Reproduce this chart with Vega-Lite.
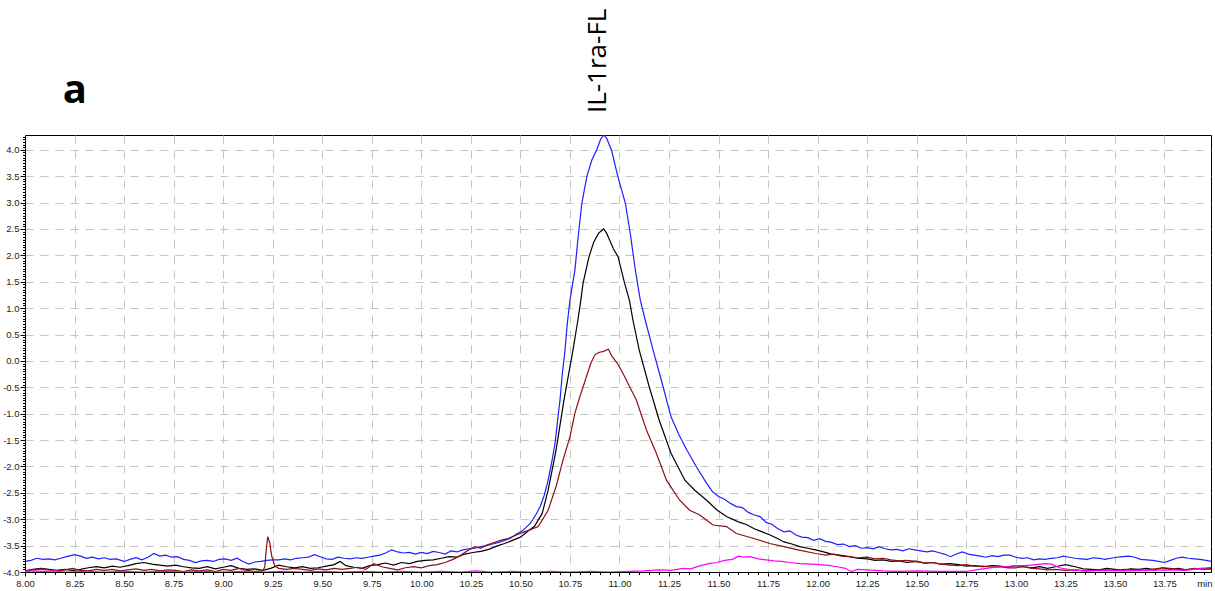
{
  "$schema": "https://vega.github.io/schema/vega-lite/v6.json",
  "width": 1186,
  "height": 437,
  "autosize": {"type": "none"},
  "padding": {"left": 25, "top": 135, "right": 4, "bottom": 19},
  "background": "white",
  "config": {"view": {"stroke": "#000", "strokeWidth": 1}, "font": "Liberation Sans"},
  "datasets": {
    "traces": [
      {"s":"b","t":8.00,"v":-3.80},{"s":"b","t":8.03,"v":-3.78},{"s":"b","t":8.06,"v":-3.74},{"s":"b","t":8.09,"v":-3.76},{"s":"b","t":8.12,"v":-3.75},{"s":"b","t":8.15,"v":-3.77},{"s":"b","t":8.18,"v":-3.74},{"s":"b","t":8.21,"v":-3.71},{"s":"b","t":8.25,"v":-3.67},{"s":"b","t":8.28,"v":-3.70},{"s":"b","t":8.31,"v":-3.74},{"s":"b","t":8.34,"v":-3.72},{"s":"b","t":8.37,"v":-3.75},{"s":"b","t":8.40,"v":-3.73},{"s":"b","t":8.43,"v":-3.76},{"s":"b","t":8.46,"v":-3.75},{"s":"b","t":8.50,"v":-3.80},{"s":"b","t":8.53,"v":-3.76},{"s":"b","t":8.56,"v":-3.73},{"s":"b","t":8.59,"v":-3.77},{"s":"b","t":8.62,"v":-3.72},{"s":"b","t":8.65,"v":-3.65},{"s":"b","t":8.68,"v":-3.70},{"s":"b","t":8.71,"v":-3.68},{"s":"b","t":8.74,"v":-3.72},{"s":"b","t":8.77,"v":-3.71},{"s":"b","t":8.80,"v":-3.76},{"s":"b","t":8.83,"v":-3.78},{"s":"b","t":8.86,"v":-3.82},{"s":"b","t":8.89,"v":-3.79},{"s":"b","t":8.92,"v":-3.78},{"s":"b","t":8.95,"v":-3.80},{"s":"b","t":8.98,"v":-3.76},{"s":"b","t":9.01,"v":-3.75},{"s":"b","t":9.04,"v":-3.78},{"s":"b","t":9.07,"v":-3.74},{"s":"b","t":9.10,"v":-3.80},{"s":"b","t":9.13,"v":-3.85},{"s":"b","t":9.16,"v":-3.81},{"s":"b","t":9.19,"v":-3.80},{"s":"b","t":9.22,"v":-3.78},{"s":"b","t":9.25,"v":-3.77},{"s":"b","t":9.28,"v":-3.77},{"s":"b","t":9.31,"v":-3.75},{"s":"b","t":9.34,"v":-3.77},{"s":"b","t":9.37,"v":-3.74},{"s":"b","t":9.40,"v":-3.73},{"s":"b","t":9.43,"v":-3.72},{"s":"b","t":9.46,"v":-3.67},{"s":"b","t":9.49,"v":-3.71},{"s":"b","t":9.52,"v":-3.75},{"s":"b","t":9.55,"v":-3.76},{"s":"b","t":9.58,"v":-3.72},{"s":"b","t":9.61,"v":-3.74},{"s":"b","t":9.64,"v":-3.75},{"s":"b","t":9.67,"v":-3.73},{"s":"b","t":9.70,"v":-3.74},{"s":"b","t":9.73,"v":-3.72},{"s":"b","t":9.76,"v":-3.70},{"s":"b","t":9.79,"v":-3.68},{"s":"b","t":9.82,"v":-3.64},{"s":"b","t":9.85,"v":-3.58},{"s":"b","t":9.88,"v":-3.62},{"s":"b","t":9.91,"v":-3.64},{"s":"b","t":9.94,"v":-3.63},{"s":"b","t":9.97,"v":-3.66},{"s":"b","t":10.00,"v":-3.63},{"s":"b","t":10.03,"v":-3.65},{"s":"b","t":10.06,"v":-3.61},{"s":"b","t":10.09,"v":-3.63},{"s":"b","t":10.12,"v":-3.66},{"s":"b","t":10.15,"v":-3.60},{"s":"b","t":10.18,"v":-3.62},{"s":"b","t":10.21,"v":-3.58},{"s":"b","t":10.24,"v":-3.56},{"s":"b","t":10.27,"v":-3.55},{"s":"b","t":10.30,"v":-3.52},{"s":"b","t":10.33,"v":-3.50},{"s":"b","t":10.36,"v":-3.47},{"s":"b","t":10.39,"v":-3.44},{"s":"b","t":10.42,"v":-3.40},{"s":"b","t":10.45,"v":-3.36},{"s":"b","t":10.48,"v":-3.28},{"s":"b","t":10.51,"v":-3.22},{"s":"b","t":10.55,"v":-3.08},{"s":"b","t":10.58,"v":-2.90},{"s":"b","t":10.60,"v":-2.76},{"s":"b","t":10.62,"v":-2.55},{"s":"b","t":10.64,"v":-2.26},{"s":"b","t":10.66,"v":-1.88},{"s":"b","t":10.675,"v":-1.56},{"s":"b","t":10.69,"v":-1.05},{"s":"b","t":10.70,"v":-0.74},{"s":"b","t":10.71,"v":-0.30},{"s":"b","t":10.725,"v":0.20},{"s":"b","t":10.735,"v":0.65},{"s":"b","t":10.75,"v":1.15},{"s":"b","t":10.775,"v":1.72},{"s":"b","t":10.79,"v":2.30},{"s":"b","t":10.81,"v":2.98},{"s":"b","t":10.835,"v":3.49},{"s":"b","t":10.86,"v":3.80},{"s":"b","t":10.885,"v":4.00},{"s":"b","t":10.905,"v":4.20},{"s":"b","t":10.92,"v":4.28},{"s":"b","t":10.935,"v":4.22},{"s":"b","t":10.96,"v":3.99},{"s":"b","t":10.99,"v":3.52},{"s":"b","t":11.03,"v":2.98},{"s":"b","t":11.055,"v":2.40},{"s":"b","t":11.08,"v":1.72},{"s":"b","t":11.105,"v":1.15},{"s":"b","t":11.13,"v":0.77},{"s":"b","t":11.17,"v":0.20},{"s":"b","t":11.22,"v":-0.49},{"s":"b","t":11.26,"v":-1.06},{"s":"b","t":11.30,"v":-1.40},{"s":"b","t":11.34,"v":-1.69},{"s":"b","t":11.39,"v":-2.02},{"s":"b","t":11.44,"v":-2.32},{"s":"b","t":11.47,"v":-2.48},{"s":"b","t":11.50,"v":-2.57},{"s":"b","t":11.53,"v":-2.62},{"s":"b","t":11.56,"v":-2.70},{"s":"b","t":11.59,"v":-2.76},{"s":"b","t":11.62,"v":-2.78},{"s":"b","t":11.65,"v":-2.87},{"s":"b","t":11.68,"v":-2.92},{"s":"b","t":11.71,"v":-2.95},{"s":"b","t":11.74,"v":-3.06},{"s":"b","t":11.77,"v":-3.10},{"s":"b","t":11.80,"v":-3.18},{"s":"b","t":11.83,"v":-3.24},{"s":"b","t":11.86,"v":-3.22},{"s":"b","t":11.89,"v":-3.30},{"s":"b","t":11.92,"v":-3.34},{"s":"b","t":11.95,"v":-3.35},{"s":"b","t":11.98,"v":-3.40},{"s":"b","t":12.01,"v":-3.37},{"s":"b","t":12.04,"v":-3.42},{"s":"b","t":12.07,"v":-3.44},{"s":"b","t":12.10,"v":-3.48},{"s":"b","t":12.13,"v":-3.47},{"s":"b","t":12.16,"v":-3.52},{"s":"b","t":12.19,"v":-3.50},{"s":"b","t":12.22,"v":-3.55},{"s":"b","t":12.25,"v":-3.54},{"s":"b","t":12.28,"v":-3.56},{"s":"b","t":12.31,"v":-3.52},{"s":"b","t":12.34,"v":-3.56},{"s":"b","t":12.37,"v":-3.58},{"s":"b","t":12.40,"v":-3.57},{"s":"b","t":12.43,"v":-3.60},{"s":"b","t":12.46,"v":-3.56},{"s":"b","t":12.49,"v":-3.58},{"s":"b","t":12.52,"v":-3.60},{"s":"b","t":12.55,"v":-3.62},{"s":"b","t":12.58,"v":-3.60},{"s":"b","t":12.61,"v":-3.63},{"s":"b","t":12.64,"v":-3.66},{"s":"b","t":12.67,"v":-3.71},{"s":"b","t":12.70,"v":-3.66},{"s":"b","t":12.73,"v":-3.62},{"s":"b","t":12.76,"v":-3.66},{"s":"b","t":12.79,"v":-3.68},{"s":"b","t":12.82,"v":-3.70},{"s":"b","t":12.85,"v":-3.72},{"s":"b","t":12.88,"v":-3.69},{"s":"b","t":12.91,"v":-3.71},{"s":"b","t":12.94,"v":-3.68},{"s":"b","t":12.97,"v":-3.68},{"s":"b","t":13.00,"v":-3.72},{"s":"b","t":13.03,"v":-3.74},{"s":"b","t":13.06,"v":-3.73},{"s":"b","t":13.09,"v":-3.77},{"s":"b","t":13.12,"v":-3.75},{"s":"b","t":13.15,"v":-3.76},{"s":"b","t":13.18,"v":-3.74},{"s":"b","t":13.21,"v":-3.73},{"s":"b","t":13.24,"v":-3.70},{"s":"b","t":13.27,"v":-3.72},{"s":"b","t":13.30,"v":-3.74},{"s":"b","t":13.33,"v":-3.75},{"s":"b","t":13.36,"v":-3.76},{"s":"b","t":13.39,"v":-3.73},{"s":"b","t":13.42,"v":-3.74},{"s":"b","t":13.45,"v":-3.76},{"s":"b","t":13.48,"v":-3.74},{"s":"b","t":13.51,"v":-3.72},{"s":"b","t":13.54,"v":-3.71},{"s":"b","t":13.57,"v":-3.70},{"s":"b","t":13.60,"v":-3.72},{"s":"b","t":13.63,"v":-3.76},{"s":"b","t":13.66,"v":-3.77},{"s":"b","t":13.69,"v":-3.78},{"s":"b","t":13.72,"v":-3.80},{"s":"b","t":13.75,"v":-3.82},{"s":"b","t":13.78,"v":-3.78},{"s":"b","t":13.81,"v":-3.74},{"s":"b","t":13.84,"v":-3.72},{"s":"b","t":13.87,"v":-3.74},{"s":"b","t":13.90,"v":-3.75},{"s":"b","t":13.93,"v":-3.76},{"s":"b","t":13.96,"v":-3.78},{"s":"b","t":13.99,"v":-3.80},

      {"s":"k","t":8.00,"v":-3.98},{"s":"k","t":8.04,"v":-3.95},{"s":"k","t":8.08,"v":-3.93},{"s":"k","t":8.12,"v":-3.95},{"s":"k","t":8.16,"v":-3.97},{"s":"k","t":8.20,"v":-3.95},{"s":"k","t":8.24,"v":-3.97},{"s":"k","t":8.28,"v":-3.95},{"s":"k","t":8.32,"v":-3.92},{"s":"k","t":8.36,"v":-3.90},{"s":"k","t":8.40,"v":-3.92},{"s":"k","t":8.44,"v":-3.89},{"s":"k","t":8.48,"v":-3.91},{"s":"k","t":8.52,"v":-3.88},{"s":"k","t":8.56,"v":-3.84},{"s":"k","t":8.60,"v":-3.82},{"s":"k","t":8.64,"v":-3.85},{"s":"k","t":8.68,"v":-3.87},{"s":"k","t":8.72,"v":-3.89},{"s":"k","t":8.76,"v":-3.87},{"s":"k","t":8.80,"v":-3.90},{"s":"k","t":8.84,"v":-3.92},{"s":"k","t":8.88,"v":-3.93},{"s":"k","t":8.92,"v":-3.90},{"s":"k","t":8.96,"v":-3.94},{"s":"k","t":9.00,"v":-3.91},{"s":"k","t":9.04,"v":-3.88},{"s":"k","t":9.08,"v":-3.93},{"s":"k","t":9.12,"v":-3.95},{"s":"k","t":9.16,"v":-3.94},{"s":"k","t":9.20,"v":-3.97},{"s":"k","t":9.24,"v":-3.93},{"s":"k","t":9.28,"v":-3.87},{"s":"k","t":9.32,"v":-3.90},{"s":"k","t":9.36,"v":-3.92},{"s":"k","t":9.40,"v":-3.90},{"s":"k","t":9.44,"v":-3.93},{"s":"k","t":9.48,"v":-3.92},{"s":"k","t":9.52,"v":-3.89},{"s":"k","t":9.56,"v":-3.86},{"s":"k","t":9.59,"v":-3.80},{"s":"k","t":9.62,"v":-3.88},{"s":"k","t":9.66,"v":-3.91},{"s":"k","t":9.70,"v":-3.93},{"s":"k","t":9.74,"v":-3.88},{"s":"k","t":9.78,"v":-3.86},{"s":"k","t":9.82,"v":-3.83},{"s":"k","t":9.86,"v":-3.87},{"s":"k","t":9.90,"v":-3.82},{"s":"k","t":9.94,"v":-3.84},{"s":"k","t":9.98,"v":-3.80},{"s":"k","t":10.02,"v":-3.78},{"s":"k","t":10.06,"v":-3.77},{"s":"k","t":10.10,"v":-3.74},{"s":"k","t":10.14,"v":-3.71},{"s":"k","t":10.18,"v":-3.72},{"s":"k","t":10.22,"v":-3.66},{"s":"k","t":10.26,"v":-3.63},{"s":"k","t":10.30,"v":-3.61},{"s":"k","t":10.34,"v":-3.57},{"s":"k","t":10.38,"v":-3.51},{"s":"k","t":10.42,"v":-3.46},{"s":"k","t":10.46,"v":-3.40},{"s":"k","t":10.50,"v":-3.34},{"s":"k","t":10.54,"v":-3.22},{"s":"k","t":10.57,"v":-3.14},{"s":"k","t":10.61,"v":-2.89},{"s":"k","t":10.64,"v":-2.45},{"s":"k","t":10.68,"v":-1.69},{"s":"k","t":10.72,"v":-0.74},{"s":"k","t":10.765,"v":0.20},{"s":"k","t":10.79,"v":0.77},{"s":"k","t":10.805,"v":1.15},{"s":"k","t":10.816,"v":1.47},{"s":"k","t":10.846,"v":1.97},{"s":"k","t":10.87,"v":2.25},{"s":"k","t":10.895,"v":2.42},{"s":"k","t":10.92,"v":2.50},{"s":"k","t":10.935,"v":2.42},{"s":"k","t":10.95,"v":2.29},{"s":"k","t":10.97,"v":2.12},{"s":"k","t":10.993,"v":1.97},{"s":"k","t":11.026,"v":1.47},{"s":"k","t":11.05,"v":1.15},{"s":"k","t":11.068,"v":0.77},{"s":"k","t":11.10,"v":0.20},{"s":"k","t":11.15,"v":-0.49},{"s":"k","t":11.20,"v":-1.12},{"s":"k","t":11.26,"v":-1.75},{"s":"k","t":11.33,"v":-2.26},{"s":"k","t":11.38,"v":-2.45},{"s":"k","t":11.44,"v":-2.64},{"s":"k","t":11.49,"v":-2.82},{"s":"k","t":11.54,"v":-2.95},{"s":"k","t":11.60,"v":-3.05},{"s":"k","t":11.64,"v":-3.10},{"s":"k","t":11.68,"v":-3.18},{"s":"k","t":11.72,"v":-3.24},{"s":"k","t":11.76,"v":-3.30},{"s":"k","t":11.80,"v":-3.37},{"s":"k","t":11.83,"v":-3.43},{"s":"k","t":11.87,"v":-3.47},{"s":"k","t":11.91,"v":-3.52},{"s":"k","t":11.95,"v":-3.55},{"s":"k","t":11.99,"v":-3.58},{"s":"k","t":12.03,"v":-3.62},{"s":"k","t":12.07,"v":-3.66},{"s":"k","t":12.11,"v":-3.68},{"s":"k","t":12.16,"v":-3.71},{"s":"k","t":12.20,"v":-3.74},{"s":"k","t":12.25,"v":-3.75},{"s":"k","t":12.29,"v":-3.78},{"s":"k","t":12.33,"v":-3.77},{"s":"k","t":12.37,"v":-3.80},{"s":"k","t":12.41,"v":-3.79},{"s":"k","t":12.45,"v":-3.82},{"s":"k","t":12.50,"v":-3.80},{"s":"k","t":12.54,"v":-3.83},{"s":"k","t":12.58,"v":-3.82},{"s":"k","t":12.62,"v":-3.85},{"s":"k","t":12.67,"v":-3.84},{"s":"k","t":12.71,"v":-3.86},{"s":"k","t":12.75,"v":-3.89},{"s":"k","t":12.79,"v":-3.88},{"s":"k","t":12.835,"v":-3.90},{"s":"k","t":12.88,"v":-3.88},{"s":"k","t":12.92,"v":-3.89},{"s":"k","t":12.96,"v":-3.91},{"s":"k","t":13.00,"v":-3.88},{"s":"k","t":13.04,"v":-3.90},{"s":"k","t":13.08,"v":-3.92},{"s":"k","t":13.12,"v":-3.90},{"s":"k","t":13.16,"v":-3.93},{"s":"k","t":13.20,"v":-3.90},{"s":"k","t":13.25,"v":-3.86},{"s":"k","t":13.30,"v":-3.90},{"s":"k","t":13.34,"v":-3.94},{"s":"k","t":13.38,"v":-3.95},{"s":"k","t":13.42,"v":-3.96},{"s":"k","t":13.46,"v":-3.93},{"s":"k","t":13.50,"v":-3.95},{"s":"k","t":13.54,"v":-3.97},{"s":"k","t":13.58,"v":-3.94},{"s":"k","t":13.62,"v":-3.95},{"s":"k","t":13.66,"v":-3.93},{"s":"k","t":13.70,"v":-3.96},{"s":"k","t":13.74,"v":-3.92},{"s":"k","t":13.78,"v":-3.95},{"s":"k","t":13.82,"v":-3.93},{"s":"k","t":13.86,"v":-3.96},{"s":"k","t":13.90,"v":-3.94},{"s":"k","t":13.94,"v":-3.93},{"s":"k","t":13.99,"v":-3.95},

      {"s":"r","t":8.00,"v":-3.98},{"s":"r","t":8.04,"v":-3.96},{"s":"r","t":8.08,"v":-3.94},{"s":"r","t":8.12,"v":-3.96},{"s":"r","t":8.16,"v":-3.98},{"s":"r","t":8.20,"v":-3.96},{"s":"r","t":8.24,"v":-3.93},{"s":"r","t":8.28,"v":-3.97},{"s":"r","t":8.32,"v":-3.98},{"s":"r","t":8.36,"v":-3.95},{"s":"r","t":8.40,"v":-3.97},{"s":"r","t":8.44,"v":-3.95},{"s":"r","t":8.48,"v":-3.98},{"s":"r","t":8.52,"v":-3.96},{"s":"r","t":8.56,"v":-3.94},{"s":"r","t":8.60,"v":-3.97},{"s":"r","t":8.64,"v":-3.95},{"s":"r","t":8.68,"v":-3.98},{"s":"r","t":8.72,"v":-3.96},{"s":"r","t":8.76,"v":-3.97},{"s":"r","t":8.80,"v":-3.99},{"s":"r","t":8.84,"v":-3.96},{"s":"r","t":8.88,"v":-3.98},{"s":"r","t":8.92,"v":-3.96},{"s":"r","t":8.96,"v":-3.99},{"s":"r","t":9.00,"v":-3.95},{"s":"r","t":9.04,"v":-3.97},{"s":"r","t":9.08,"v":-3.93},{"s":"r","t":9.12,"v":-3.97},{"s":"r","t":9.16,"v":-3.99},{"s":"r","t":9.20,"v":-3.98},{"s":"r","t":9.21,"v":-3.90},{"s":"r","t":9.218,"v":-3.55},{"s":"r","t":9.225,"v":-3.33},{"s":"r","t":9.235,"v":-3.45},{"s":"r","t":9.245,"v":-3.70},{"s":"r","t":9.26,"v":-3.88},{"s":"r","t":9.28,"v":-3.93},{"s":"r","t":9.32,"v":-3.95},{"s":"r","t":9.36,"v":-3.93},{"s":"r","t":9.40,"v":-3.95},{"s":"r","t":9.44,"v":-3.97},{"s":"r","t":9.48,"v":-3.94},{"s":"r","t":9.52,"v":-3.96},{"s":"r","t":9.56,"v":-3.93},{"s":"r","t":9.60,"v":-3.95},{"s":"r","t":9.64,"v":-3.93},{"s":"r","t":9.68,"v":-3.91},{"s":"r","t":9.72,"v":-3.95},{"s":"r","t":9.76,"v":-3.84},{"s":"r","t":9.80,"v":-3.90},{"s":"r","t":9.84,"v":-3.93},{"s":"r","t":9.88,"v":-3.96},{"s":"r","t":9.92,"v":-3.92},{"s":"r","t":9.96,"v":-3.90},{"s":"r","t":10.00,"v":-3.92},{"s":"r","t":10.04,"v":-3.88},{"s":"r","t":10.08,"v":-3.86},{"s":"r","t":10.12,"v":-3.82},{"s":"r","t":10.16,"v":-3.76},{"s":"r","t":10.20,"v":-3.68},{"s":"r","t":10.24,"v":-3.58},{"s":"r","t":10.27,"v":-3.52},{"s":"r","t":10.30,"v":-3.55},{"s":"r","t":10.33,"v":-3.49},{"s":"r","t":10.36,"v":-3.45},{"s":"r","t":10.40,"v":-3.40},{"s":"r","t":10.44,"v":-3.36},{"s":"r","t":10.48,"v":-3.30},{"s":"r","t":10.52,"v":-3.24},{"s":"r","t":10.55,"v":-3.20},{"s":"r","t":10.59,"v":-3.14},{"s":"r","t":10.64,"v":-2.83},{"s":"r","t":10.68,"v":-2.38},{"s":"r","t":10.715,"v":-1.88},{"s":"r","t":10.75,"v":-1.44},{"s":"r","t":10.775,"v":-0.99},{"s":"r","t":10.80,"v":-0.68},{"s":"r","t":10.833,"v":-0.30},{"s":"r","t":10.855,"v":-0.05},{"s":"r","t":10.875,"v":0.11},{"s":"r","t":10.895,"v":0.16},{"s":"r","t":10.92,"v":0.18},{"s":"r","t":10.944,"v":0.22},{"s":"r","t":10.96,"v":0.10},{"s":"r","t":10.99,"v":-0.05},{"s":"r","t":11.018,"v":-0.24},{"s":"r","t":11.05,"v":-0.48},{"s":"r","t":11.085,"v":-0.74},{"s":"r","t":11.11,"v":-1.02},{"s":"r","t":11.136,"v":-1.31},{"s":"r","t":11.186,"v":-1.75},{"s":"r","t":11.237,"v":-2.26},{"s":"r","t":11.27,"v":-2.45},{"s":"r","t":11.304,"v":-2.64},{"s":"r","t":11.354,"v":-2.83},{"s":"r","t":11.405,"v":-2.92},{"s":"r","t":11.44,"v":-3.02},{"s":"r","t":11.472,"v":-3.11},{"s":"r","t":11.54,"v":-3.14},{"s":"r","t":11.59,"v":-3.27},{"s":"r","t":11.674,"v":-3.36},{"s":"r","t":11.758,"v":-3.46},{"s":"r","t":11.83,"v":-3.52},{"s":"r","t":11.90,"v":-3.58},{"s":"r","t":11.99,"v":-3.65},{"s":"r","t":12.04,"v":-3.68},{"s":"r","t":12.08,"v":-3.66},{"s":"r","t":12.12,"v":-3.70},{"s":"r","t":12.16,"v":-3.71},{"s":"r","t":12.20,"v":-3.73},{"s":"r","t":12.25,"v":-3.72},{"s":"r","t":12.29,"v":-3.75},{"s":"r","t":12.33,"v":-3.74},{"s":"r","t":12.37,"v":-3.77},{"s":"r","t":12.41,"v":-3.79},{"s":"r","t":12.45,"v":-3.78},{"s":"r","t":12.50,"v":-3.80},{"s":"r","t":12.54,"v":-3.83},{"s":"r","t":12.58,"v":-3.82},{"s":"r","t":12.62,"v":-3.85},{"s":"r","t":12.67,"v":-3.87},{"s":"r","t":12.71,"v":-3.88},{"s":"r","t":12.75,"v":-3.86},{"s":"r","t":12.79,"v":-3.89},{"s":"r","t":12.835,"v":-3.89},{"s":"r","t":12.88,"v":-3.91},{"s":"r","t":12.92,"v":-3.90},{"s":"r","t":12.96,"v":-3.92},{"s":"r","t":13.00,"v":-3.92},{"s":"r","t":13.04,"v":-3.90},{"s":"r","t":13.08,"v":-3.93},{"s":"r","t":13.12,"v":-3.94},{"s":"r","t":13.16,"v":-3.96},{"s":"r","t":13.20,"v":-3.95},{"s":"r","t":13.25,"v":-3.97},{"s":"r","t":13.30,"v":-3.96},{"s":"r","t":13.35,"v":-3.98},{"s":"r","t":13.40,"v":-3.97},{"s":"r","t":13.45,"v":-3.96},{"s":"r","t":13.50,"v":-3.97},{"s":"r","t":13.55,"v":-3.95},{"s":"r","t":13.60,"v":-3.96},{"s":"r","t":13.65,"v":-3.97},{"s":"r","t":13.70,"v":-3.94},{"s":"r","t":13.75,"v":-3.92},{"s":"r","t":13.80,"v":-3.94},{"s":"r","t":13.85,"v":-3.96},{"s":"r","t":13.90,"v":-3.93},{"s":"r","t":13.95,"v":-3.95},{"s":"r","t":13.99,"v":-3.93},

      {"s":"m","t":8.00,"v":-3.99},{"s":"m","t":8.05,"v":-3.98},{"s":"m","t":8.10,"v":-3.99},{"s":"m","t":8.15,"v":-3.98},{"s":"m","t":8.20,"v":-4.00},{"s":"m","t":8.30,"v":-3.99},{"s":"m","t":8.40,"v":-4.00},{"s":"m","t":8.50,"v":-3.99},{"s":"m","t":8.60,"v":-4.00},{"s":"m","t":8.70,"v":-3.99},{"s":"m","t":8.80,"v":-4.00},{"s":"m","t":8.90,"v":-3.99},{"s":"m","t":9.00,"v":-4.00},{"s":"m","t":9.10,"v":-3.99},{"s":"m","t":9.20,"v":-4.00},{"s":"m","t":9.30,"v":-3.99},{"s":"m","t":9.40,"v":-4.00},{"s":"m","t":9.50,"v":-3.99},{"s":"m","t":9.60,"v":-4.00},{"s":"m","t":9.70,"v":-3.99},{"s":"m","t":9.80,"v":-4.00},{"s":"m","t":9.90,"v":-3.99},{"s":"m","t":10.00,"v":-4.00},{"s":"m","t":10.10,"v":-3.99},{"s":"m","t":10.20,"v":-4.00},{"s":"m","t":10.28,"v":-3.98},{"s":"m","t":10.35,"v":-4.00},{"s":"m","t":10.45,"v":-3.99},{"s":"m","t":10.55,"v":-4.00},{"s":"m","t":10.65,"v":-3.99},{"s":"m","t":10.75,"v":-4.00},{"s":"m","t":10.85,"v":-3.99},{"s":"m","t":10.95,"v":-4.00},{"s":"m","t":11.05,"v":-3.99},{"s":"m","t":11.12,"v":-3.98},{"s":"m","t":11.20,"v":-3.96},{"s":"m","t":11.26,"v":-3.97},{"s":"m","t":11.32,"v":-3.93},{"s":"m","t":11.36,"v":-3.94},{"s":"m","t":11.40,"v":-3.89},{"s":"m","t":11.45,"v":-3.84},{"s":"m","t":11.49,"v":-3.82},{"s":"m","t":11.53,"v":-3.78},{"s":"m","t":11.57,"v":-3.76},{"s":"m","t":11.60,"v":-3.70},{"s":"m","t":11.63,"v":-3.72},{"s":"m","t":11.66,"v":-3.71},{"s":"m","t":11.70,"v":-3.75},{"s":"m","t":11.74,"v":-3.77},{"s":"m","t":11.78,"v":-3.79},{"s":"m","t":11.82,"v":-3.80},{"s":"m","t":11.86,"v":-3.82},{"s":"m","t":11.91,"v":-3.84},{"s":"m","t":11.97,"v":-3.85},{"s":"m","t":12.01,"v":-3.86},{"s":"m","t":12.045,"v":-3.87},{"s":"m","t":12.10,"v":-3.90},{"s":"m","t":12.14,"v":-3.93},{"s":"m","t":12.17,"v":-3.99},{"s":"m","t":12.20,"v":-3.95},{"s":"m","t":12.25,"v":-3.96},{"s":"m","t":12.33,"v":-3.98},{"s":"m","t":12.40,"v":-3.99},{"s":"m","t":12.50,"v":-3.98},{"s":"m","t":12.60,"v":-3.99},{"s":"m","t":12.70,"v":-3.99},{"s":"m","t":12.75,"v":-3.99},{"s":"m","t":12.80,"v":-3.96},{"s":"m","t":12.85,"v":-3.93},{"s":"m","t":12.90,"v":-3.91},{"s":"m","t":12.95,"v":-3.90},{"s":"m","t":13.00,"v":-3.88},{"s":"m","t":13.05,"v":-3.88},{"s":"m","t":13.10,"v":-3.86},{"s":"m","t":13.15,"v":-3.84},{"s":"m","t":13.18,"v":-3.85},{"s":"m","t":13.22,"v":-3.92},{"s":"m","t":13.28,"v":-3.96},{"s":"m","t":13.35,"v":-3.98},{"s":"m","t":13.45,"v":-3.97},{"s":"m","t":13.55,"v":-3.98},{"s":"m","t":13.65,"v":-3.97},{"s":"m","t":13.75,"v":-3.96},{"s":"m","t":13.85,"v":-3.97},{"s":"m","t":13.92,"v":-3.94},{"s":"m","t":13.99,"v":-3.91}
    ]
  },
  "resolve": {"axis": {"x": "independent", "y": "independent"}},
  "layer": [
    {
      "data": {"name": "traces"},
      "mark": {"type": "line", "strokeWidth": 1.2, "clip": true},
      "encoding": {
        "x": {
          "field": "t", "type": "quantitative",
          "scale": {"domain": [8, 13.985], "nice": false, "zero": false},
          "axis": {
            "orient": "bottom",
            "values": [8, 8.25, 8.5, 8.75, 9, 9.25, 9.5, 9.75, 10, 10.25, 10.5, 10.75, 11, 11.25, 11.5, 11.75, 12, 12.25, 12.5, 12.75, 13, 13.25, 13.5, 13.75],
            "format": ".2f",
            "labelFlush": false,
            "labelOverlap": false,
            "labelFontSize": 9.5,
            "labelColor": "#222",
            "labelPadding": 2,
            "tickSize": 4,
            "tickColor": "#000",
            "domainColor": "#000",
            "grid": true,
            "gridColor": "#c4c4c4",
            "gridDash": [8, 7],
            "gridWidth": 1,
            "title": "min",
            "titleFontSize": 9.5,
            "titleFontWeight": "normal",
            "titleColor": "#222",
            "titleAnchor": "end",
            "titleAlign": "right",
            "titleBaseline": "top",
            "titleX": 1187,
            "titleY": 6
          }
        },
        "y": {
          "field": "v", "type": "quantitative",
          "scale": {"domain": [-4, 4.28], "nice": false, "zero": false},
          "axis": {
            "orient": "left",
            "values": [-4, -3.5, -3, -2.5, -2, -1.5, -1, -0.5, 0, 0.5, 1, 1.5, 2, 2.5, 3, 3.5, 4],
            "labelExpr": "(datum.value < 0 ? '-' : '') + format(abs(datum.value), '.1f')",
            "labelOverlap": false,
            "labelFlush": false,
            "labelFontSize": 9.5,
            "labelColor": "#222",
            "labelPadding": 1,
            "tickSize": 5,
            "tickColor": "#000",
            "domainColor": "#000",
            "grid": true,
            "gridColor": "#c4c4c4",
            "gridDash": [8, 7],
            "gridWidth": 1,
            "title": null
          }
        },
        "color": {
          "field": "s", "type": "nominal",
          "scale": {"domain": ["b", "k", "r", "m"], "range": ["#1f1fff", "#000000", "#8b1212", "#ff00ff"]},
          "legend": null
        }
      }
    },
    {
      "data": {"name": "traces"},
      "mark": {"type": "line", "opacity": 0},
      "encoding": {
        "x": {
          "field": "t", "type": "quantitative",
          "scale": {"domain": [8, 13.985], "nice": false, "zero": false},
          "axis": {"orient": "bottom", "tickCount": 120, "labels": false, "grid": false, "domain": false, "tickSize": 2.5, "tickColor": "#000", "title": null}
        },
        "y": {
          "field": "v", "type": "quantitative",
          "scale": {"domain": [-4, 4.28], "nice": false, "zero": false},
          "axis": {"orient": "left", "tickCount": 166, "labels": false, "grid": false, "domain": false, "tickSize": 2.5, "tickColor": "#000", "title": null}
        },
        "detail": {"field": "s"}
      }
    },
    {
      "data": {"values": [{"label": "IL-1ra-FL"}]},
      "mark": {"type": "text", "angle": 270, "align": "center", "baseline": "middle", "fontSize": 26, "font": "Open Sans", "color": "#000"},
      "encoding": {
        "x": {"datum": 10.893, "type": "quantitative", "scale": {"domain": [8, 13.985], "nice": false, "zero": false}, "axis": null},
        "y": {"datum": 5.685, "type": "quantitative", "scale": {"domain": [-4, 4.28], "nice": false, "zero": false}, "axis": null},
        "text": {"field": "label"}
      }
    },
    {
      "data": {"values": [{"label": "a"}]},
      "mark": {"type": "text", "align": "center", "baseline": "alphabetic", "fontSize": 40, "fontWeight": "bold", "font": "Open Sans", "color": "#000"},
      "encoding": {
        "x": {"datum": 8.252, "type": "quantitative", "scale": {"domain": [8, 13.985], "nice": false, "zero": false}, "axis": null},
        "y": {"datum": 4.886, "type": "quantitative", "scale": {"domain": [-4, 4.28], "nice": false, "zero": false}, "axis": null},
        "text": {"field": "label"}
      }
    }
  ]
}
